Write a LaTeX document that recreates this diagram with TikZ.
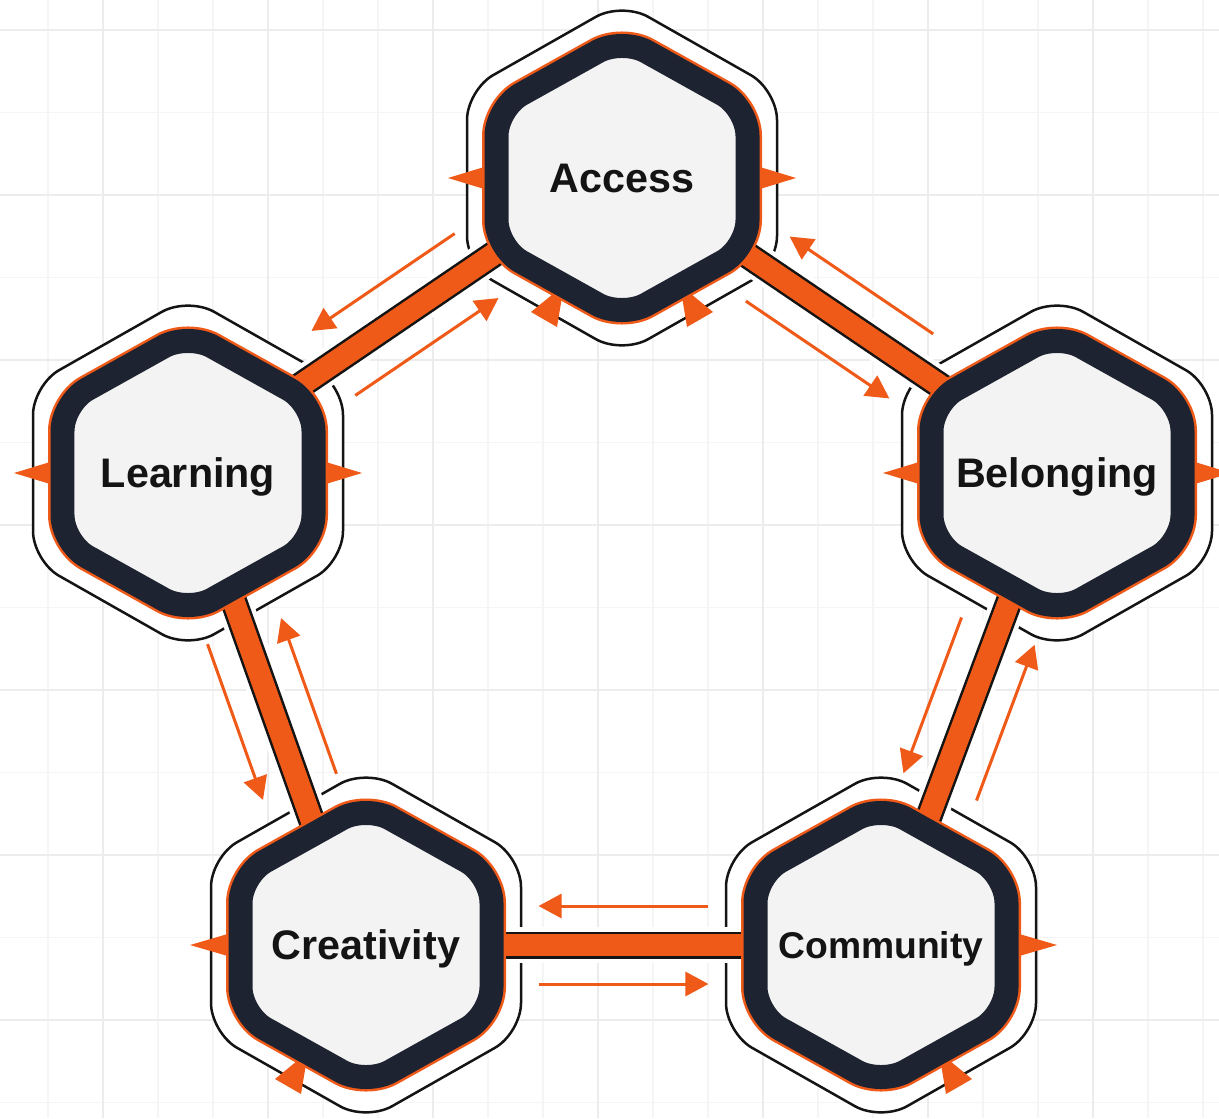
\documentclass[tikz,border=0pt]{standalone}
\usepackage{fontspec}
\setmainfont{Liberation Sans}
\usetikzlibrary{calc,arrows.meta}
\pgfdeclarelayer{gridl}\pgfdeclarelayer{outl}\pgfdeclarelayer{casl}\pgfdeclarelayer{connl}\pgfdeclarelayer{hexl}
\pgfsetlayers{gridl,outl,casl,connl,hexl,main}
\definecolor{org}{RGB}{240,90,24}
\definecolor{navy}{RGB}{29,35,48}
\definecolor{hexfill}{RGB}{243,243,243}
\definecolor{gridc}{RGB}{245,245,245}
\definecolor{gridm}{RGB}{236,236,236}
\definecolor{ink}{RGB}{20,20,20}
\newcommand{\hexshape}[2]{(#1,0) -- (#1,#2/2) -- (0,#2) -- (-#1,#2/2) -- (-#1,-#2/2) -- (0,-#2) -- (#1,-#2/2) -- cycle}
\newcommand{\linkpair}[2]{%
  \begin{pgfonlayer}{casl}\draw[casing] (#1) -- (#2);\end{pgfonlayer}
  \begin{pgfonlayer}{connl}
    \draw[barout] (#1) -- (#2);
    \draw[barin] (#1) -- (#2);
    \draw[thinarr] ($(#1)!0.665!(#2)!0.78cm!90:(#2)$) -- ($(#1)!0.335!(#2)!0.78cm!90:(#2)$);
    \draw[thinarr] ($(#1)!0.335!(#2)!0.78cm!-90:(#2)$) -- ($(#1)!0.665!(#2)!0.78cm!-90:(#2)$);
  \end{pgfonlayer}}
\begin{document}
\begin{tikzpicture}[x=0.02cm,y=-0.02cm,
  lbl/.style={font=\fontsize{23.5}{28}\selectfont\bfseries, text=ink, inner sep=0pt, text height=16.9pt, text depth=0pt},
  lblsmall/.style={font=\fontsize{21.2}{26}\selectfont\bfseries, text=ink, inner sep=0pt, text height=15.2pt, text depth=0pt},
  outerhex/.style={draw=ink, fill=white, line width=0.05cm, rounded corners=0.6cm},
  halo/.style={draw=org, line width=0.58cm, rounded corners=0.56cm},
  band/.style={draw=navy, fill=hexfill, line width=0.48cm, rounded corners=0.56cm},
  casing/.style={draw=white, line width=0.72cm},
  barout/.style={draw=ink, line width=0.54cm},
  barin/.style={draw=org, line width=0.44cm},
  thinarr/.style={draw=org, line width=0.06cm, -{Triangle[length=0.46cm,width=0.48cm]}},
  tri/.style={fill=org}]
\useasboundingbox (0,0) rectangle (1219,1118);
\begin{pgfonlayer}{gridl}
  \fill[white] (0,0) rectangle (1219,1118);
  \foreach \x in {48,158,213,323,378,488,543,653,708,818,873,983,1038,1148,1203} \draw[gridc, line width=0.03cm] (\x,0) -- (\x,1118);
  \foreach \y in {30,112.5,...,1118} \draw[gridc, line width=0.03cm] (0,\y) -- (1219,\y);
  \foreach \x in {103,268,...,1219} \draw[gridm, line width=0.03cm] (\x,0) -- (\x,1118);
  \foreach \y in {30,195,...,1118} \draw[gridm, line width=0.03cm] (0,\y) -- (1219,\y);
\end{pgfonlayer}
% nodes
\node[lbl] (A) at (622,178) {Access};
\node[lbl] (L) at (188,473) {Learning};
\node[lbl] (B) at (1057,473) {Belonging};
\node[lbl] (C) at (366,945) {Creativity};
\node[lblsmall] (M) at (881,945) {Community};
% hex bodies
\foreach \n in {A,L,B,C,M}{
  \begin{pgfonlayer}{outl}\draw[outerhex, shift={(\n.center)}] \hexshape{155}{176};\end{pgfonlayer}
  \begin{pgfonlayer}{hexl}
    \draw[halo, shift={(\n.center)}] \hexshape{125.5}{140};
    \draw[band, shift={(\n.center)}] \hexshape{125.5}{140};
  \end{pgfonlayer}
}
% connector end points
\coordinate (pA1) at ($(A.center)+(0,-11)$);
\coordinate (pL1) at ($(L.center)+(0,-11)$);
\coordinate (pA2) at ($(A.center)+(0,-8)$);
\coordinate (pB2) at ($(B.center)+(0,-8)$);
\coordinate (pC3) at ($(C.center)+(-10,0)$);
\linkpair{pA1}{pL1}
\linkpair{pA2}{pB2}
\linkpair{L.center}{pC3}
\linkpair{B.center}{M.center}
\linkpair{C.center}{M.center}
% small triangles
\begin{pgfonlayer}{connl}
  \foreach \n in {A,L,B}{
    \fill[tri, shift={(\n.center)}] (-128,-14) -- (-174,0) -- (-128,14) -- cycle;
    \fill[tri, shift={(\n.center)}] (128,-14) -- (174,0) -- (128,14) -- cycle;
  }
  \fill[tri, shift={(C.center)}] (-128,-14) -- (-176,0) -- (-128,14) -- cycle;
  \fill[tri, shift={(M.center)}] (128,-14) -- (176,0) -- (128,14) -- cycle;
  \foreach \n in {A,C}
    \fill[tri, shift={(\n.center)}] (-58,107) -- (-65,149) -- (-91,134) -- cycle;
  \foreach \n in {A,M}
    \fill[tri, shift={(\n.center)}] (58,107) -- (65,149) -- (91,134) -- cycle;
\end{pgfonlayer}
\end{tikzpicture}
\end{document}
